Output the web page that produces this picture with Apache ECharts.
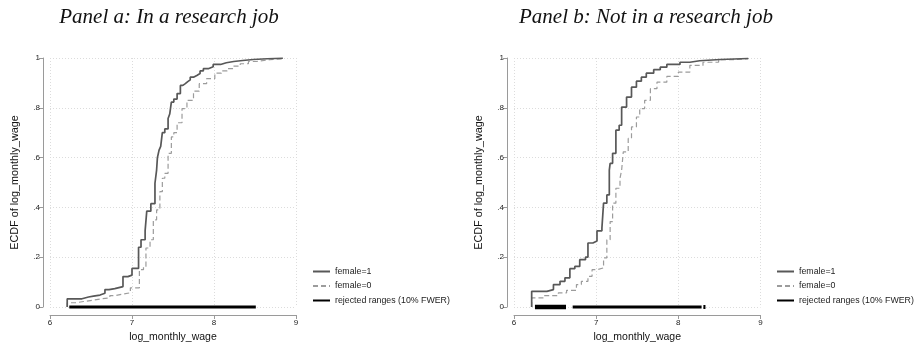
<!DOCTYPE html>
<html>
<head>
<meta charset="utf-8">
<script src="https://cdn.jsdelivr.net/npm/echarts@6/dist/echarts.min.js"></script>
<style>html,body{margin:0;padding:0;background:#fff}#c{width:924px;height:353px}</style>
</head>
<body>
<div id="c"></div>
<script>
// ---- data ----
const panelTitles = ['Panel a: In a research job', 'Panel b: Not in a research job'];
const xTicks = [6, 7, 8, 9];
const yTicks = [0, 0.2, 0.4, 0.6, 0.8, 1];
const yTickLabels = ['0', '.2', '.4', '.6', '.8', '1'];
const seriesNames = ['female=1', 'female=0', 'rejected ranges (10% FWER)'];

// Panel a: ECDF points [log wage, ECDF]
const a_female1 = [[6.21,0],[6.21,0.033],[6.39,0.040],[6.47,0.044],[6.53,0.048],[6.61,0.055],[6.67,0.070],[6.72,0.074],[6.79,0.082],[6.89,0.122],[6.95,0.128],[7.00,0.155],[7.08,0.240],[7.11,0.270],[7.16,0.307],[7.18,0.385],[7.23,0.415],[7.28,0.497],[7.30,0.550],[7.31,0.600],[7.33,0.630],[7.35,0.645],[7.37,0.700],[7.40,0.715],[7.44,0.757],[7.46,0.775],[7.48,0.823],[7.51,0.835],[7.55,0.857],[7.59,0.890],[7.62,0.897],[7.65,0.905],[7.68,0.912],[7.71,0.923],[7.75,0.930],[7.79,0.938],[7.83,0.948],[7.87,0.957],[7.93,0.965],[7.99,0.974],[8.08,0.981],[8.15,0.986],[8.24,0.990],[8.35,0.994],[8.48,0.997],[8.65,0.999],[8.84,1.0]];
const a_female0 = [[6.21,0],[6.21,0.017],[6.31,0.022],[6.41,0.027],[6.52,0.032],[6.61,0.037],[6.73,0.046],[6.80,0.051],[6.87,0.057],[6.98,0.077],[7.09,0.097],[7.09,0.150],[7.14,0.163],[7.17,0.237],[7.22,0.270],[7.26,0.350],[7.30,0.390],[7.34,0.463],[7.37,0.517],[7.40,0.537],[7.44,0.617],[7.48,0.683],[7.51,0.700],[7.55,0.740],[7.61,0.797],[7.67,0.830],[7.75,0.867],[7.82,0.897],[7.91,0.917],[8.01,0.939],[8.09,0.948],[8.16,0.957],[8.24,0.967],[8.32,0.977],[8.42,0.986],[8.52,0.993],[8.68,0.997],[8.84,1.0]];
const a_rejected = [[6.235, 8.51]];

// Panel b
const b_female1 = [[6.215,0],[6.215,0.063],[6.40,0.070],[6.48,0.090],[6.56,0.103],[6.62,0.117],[6.68,0.154],[6.74,0.163],[6.80,0.190],[6.87,0.200],[6.90,0.257],[6.96,0.265],[7.01,0.306],[7.07,0.317],[7.09,0.417],[7.13,0.450],[7.16,0.550],[7.17,0.577],[7.20,0.617],[7.24,0.710],[7.28,0.730],[7.31,0.803],[7.37,0.843],[7.43,0.883],[7.49,0.907],[7.55,0.923],[7.61,0.939],[7.70,0.953],[7.78,0.963],[7.86,0.974],[8.02,0.983],[8.14,0.989],[8.26,0.994],[8.51,0.998],[8.85,1.0]];
const b_female0 = [[6.215,0],[6.215,0.037],[6.36,0.046],[6.54,0.057],[6.64,0.067],[6.76,0.090],[6.82,0.103],[6.90,0.123],[6.95,0.150],[7.01,0.157],[7.09,0.197],[7.13,0.270],[7.17,0.343],[7.20,0.417],[7.24,0.477],[7.29,0.517],[7.31,0.550],[7.33,0.623],[7.39,0.677],[7.43,0.723],[7.49,0.763],[7.53,0.797],[7.59,0.830],[7.66,0.877],[7.74,0.903],[7.86,0.926],[8.00,0.943],[8.14,0.970],[8.30,0.983],[8.49,0.993],[8.65,0.997],[8.85,1.0]];
const b_rejected = [[6.255, 6.633], [6.714, 8.283], [8.305, 8.33]];

// ---- chart ----
const sans = 'Liberation Sans, Arial, Helvetica, sans-serif';
const grids = [
  {left: 50, top: 58, width: 246, height: 249},
  {left: 514, top: 58, width: 246.5, height: 249}
];
const legendPos = [{left: 312, top: 267}, {left: 776, top: 267}];
const titleX = [164, 641];

function xAx(i) {
  return {
    type: 'value', gridIndex: i, min: xTicks[0], max: xTicks[xTicks.length - 1], interval: 1,
    offset: 8,
    name: 'log_monthly_wage', nameLocation: 'middle', nameGap: 15,
    nameTextStyle: {fontFamily: sans, fontSize: 10.5, color: '#111'},
    axisLine: {show: true, onZero: false, lineStyle: {color: '#9a9a9a', width: 1}},
    axisTick: {show: true, length: 4, lineStyle: {color: '#9a9a9a'}},
    axisLabel: {fontFamily: sans, fontSize: 8, color: '#222', margin: 4},
    splitLine: {show: true, lineStyle: {color: '#dcdcdc', type: [1, 2], width: 1}}
  };
}
function yAx(i) {
  return {
    type: 'value', gridIndex: i, min: 0, max: 1, interval: 0.2,
    offset: 7,
    name: 'ECDF of log_monthly_wage', nameLocation: 'middle', nameGap: 22,
    nameTextStyle: {fontFamily: sans, fontSize: 10.8, color: '#111'},
    axisLine: {show: true, lineStyle: {color: '#9a9a9a', width: 1}},
    axisTick: {show: true, length: 4, lineStyle: {color: '#9a9a9a'}},
    axisLabel: {fontFamily: sans, fontSize: 8, color: '#222', margin: 3,
      formatter: v => yTickLabels[yTicks.findIndex(t => Math.abs(t - v) < 1e-9)]},
    splitLine: {show: true, lineStyle: {color: '#dcdcdc', type: [1, 2], width: 1}}
  };
}

const series = [];
function addPanel(i, f1, f0, rej, rejWidths) {
  series.push({
    name: seriesNames[0], type: 'line', xAxisIndex: i, yAxisIndex: i, data: f1,
    step: 'end', symbol: 'none', clip: false, z: 3,
    lineStyle: {color: '#585858', width: 1.7}, itemStyle: {color: '#585858'}
  });
  series.push({
    name: seriesNames[1], type: 'line', xAxisIndex: i, yAxisIndex: i, data: f0,
    step: 'end', symbol: 'none', clip: false, z: 2,
    lineStyle: {color: '#9c9c9c', width: 1.2, type: [5, 3]}, itemStyle: {color: '#9c9c9c'}
  });
  rej.forEach((r, k) => {
    series.push({
      name: seriesNames[2], type: 'line', xAxisIndex: i, yAxisIndex: i,
      data: [[r[0], 0], [r[1], 0]], symbol: 'none', clip: false, z: 4,
      lineStyle: {color: '#000', width: rejWidths[k]}, itemStyle: {color: '#000'}
    });
  });
}
addPanel(0, a_female1, a_female0, a_rejected, [3]);
addPanel(1, b_female1, b_female0, b_rejected, [4.5, 3, 4]);

const option = {
  animation: false,
  backgroundColor: '#fff',
  title: panelTitles.map((t, i) => ({
    text: t, left: titleX[i], top: 2, textAlign: 'center',
    textStyle: {fontFamily: 'Liberation Serif, Times New Roman, serif', fontStyle: 'italic',
      fontWeight: 'normal', fontSize: 21, color: '#111'}
  })),
  grid: grids,
  xAxis: [xAx(0), xAx(1)],
  yAxis: [yAx(0), yAx(1)],
  legend: legendPos.map(p => ({
    left: p.left, top: p.top, orient: 'vertical', itemWidth: 17, itemHeight: 10, itemGap: 5.5,
    padding: 0, data: seriesNames, selectedMode: false,
    itemStyle: {opacity: 0},
    textStyle: {fontFamily: sans, fontSize: 8.8, color: '#222'}
  })),
  series: series
};
const chart = echarts.init(document.getElementById('c'), null, {renderer: 'canvas'});
chart.setOption(option);
</script>
</body>
</html>
